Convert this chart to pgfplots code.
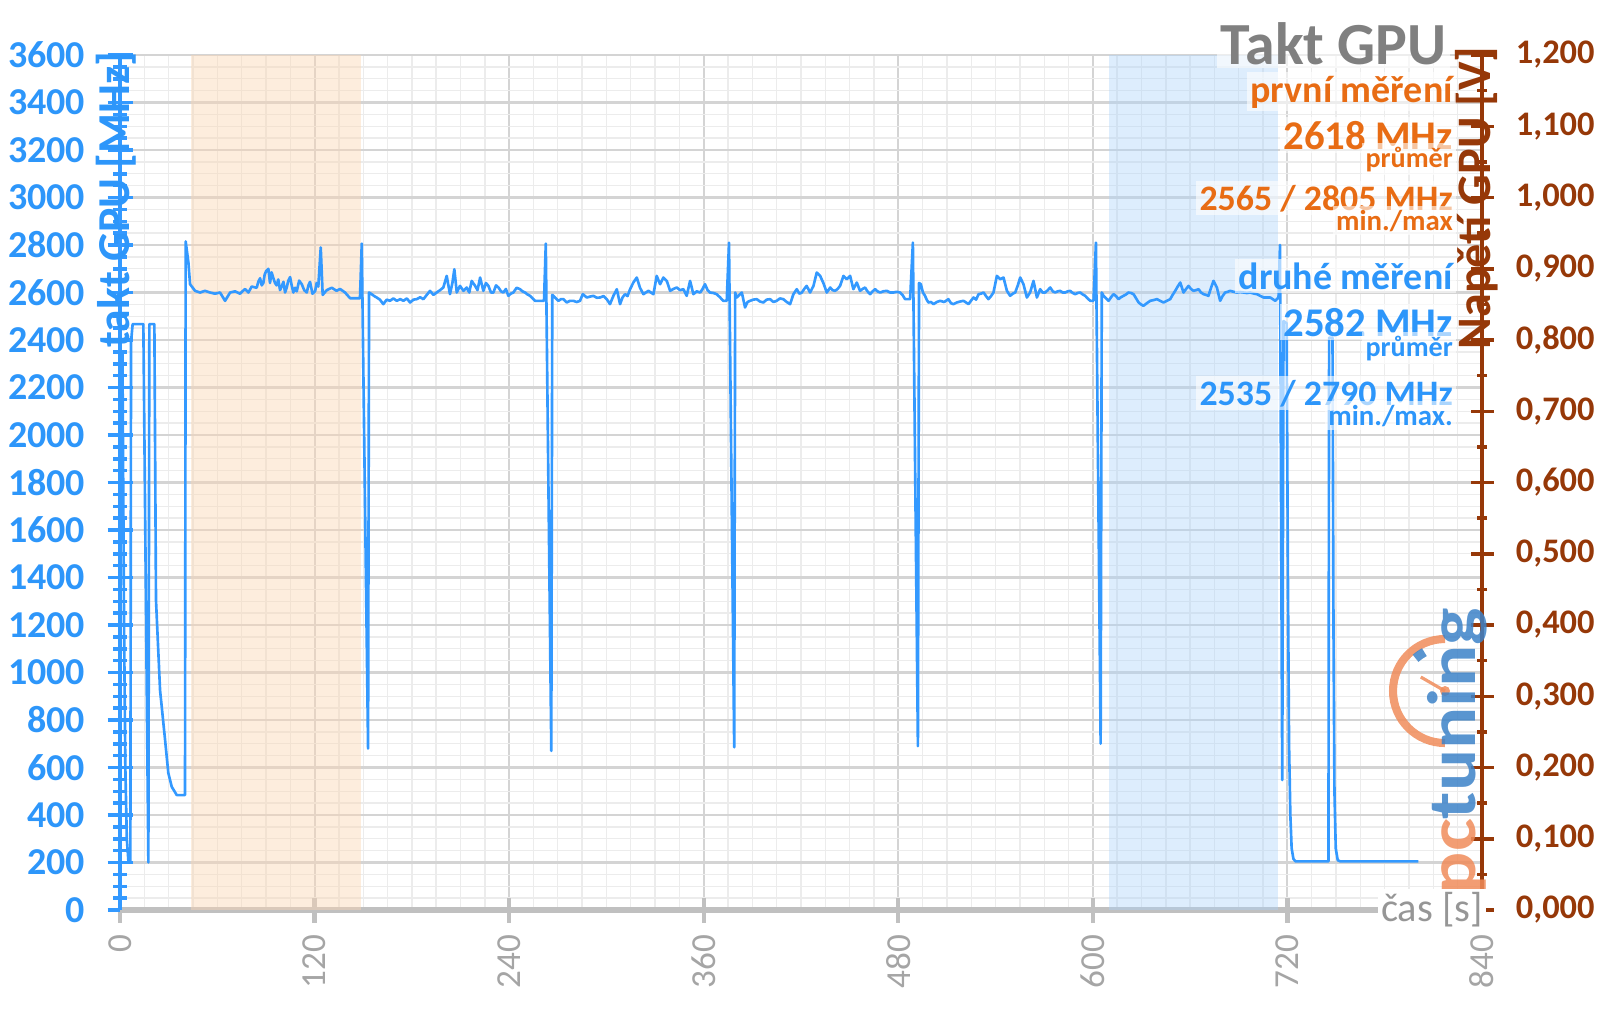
\documentclass[border=0pt]{standalone}
\usepackage{fontspec}
\setmainfont{Carlito}
\usepackage{pgfplots}
\pgfplotsset{compat=1.18}
\definecolor{cblue}{RGB}{51,153,255}
\definecolor{cbluetxt}{RGB}{45,150,250}
\definecolor{corange}{RGB}{232,108,20}
\definecolor{cbrown}{RGB}{150,56,8}
\definecolor{cgray}{RGB}{128,128,128}
\definecolor{cgray2}{RGB}{150,150,150}
\definecolor{ctick}{RGB}{165,165,165}
\definecolor{caxis}{RGB}{192,192,192}
\definecolor{cmaj}{RGB}{212,212,212}
\definecolor{cmin}{RGB}{236,236,236}
\definecolor{bandO}{RGB}{251,214,180}
\definecolor{bandB}{RGB}{170,210,250}
\definecolor{logoO}{RGB}{240,140,90}
\definecolor{logoB}{RGB}{60,130,200}
\newcommand{\fs}[1]{\fontsize{#1}{#1}\selectfont}

\pgfplotstableread{
x y
0 2350
1.5 2350
2.5 1200
3.3 600
4.2 300
5.2 205
6.4 200
6.8 2390
7.8 2467
14.4 2467
17.5 200
18.1 2467
21.2 2467
22.2 1305
24.7 926
27.8 716
29.8 577
31.9 519
35.0 484
40.1 484
40.5 2815
42.2 2726
43.2 2635
46.3 2607
49.4 2600
52.4 2607
55.5 2600
58.6 2595
61.7 2600
64.8 2565
67.9 2600
71.0 2605
74.0 2595
77.1 2615
79.2 2600
81.2 2625
84.3 2620
85.3 2645
86.4 2660
87.4 2630
88.4 2640
89.2 2675
90.1 2690
91.5 2700
92.5 2640
93.5 2685
94.6 2660
95.6 2640
96.6 2630
97.6 2655
98.7 2610
99.7 2625
100.8 2645
101.8 2600
102.8 2620
103.8 2650
104.9 2665
105.9 2630
106.9 2600
108.0 2620
109.0 2605
110.5 2650
112.1 2635
113.6 2610
115.2 2600
116.2 2630
117.2 2645
118.7 2595
120.3 2605
121.3 2640
122.3 2625
123.8 2790
125.0 2590
127.5 2610
130.6 2620
133.6 2607
135.7 2615
138.8 2600
141.9 2576
148.0 2576
149.1 2806
153.0 680
153.6 2600
155.2 2593
156.8 2585
158.3 2579
160.3 2570
162.4 2551
164.5 2570
166.5 2565
168.6 2575
170.7 2565
172.8 2572
174.8 2565
176.9 2575
178.9 2558
181.0 2570
183.0 2572
185.1 2580
187.1 2572
189.2 2590
191.2 2607
193.3 2590
195.3 2600
197.4 2610
199.4 2621
201.5 2670
203.5 2593
205.0 2640
206.2 2698
207.7 2600
209.7 2628
211.8 2607
213.8 2621
215.4 2600
216.9 2649
219.0 2628
220.5 2610
222.1 2663
224.1 2607
225.7 2640
227.2 2628
228.8 2600
230.3 2600
231.9 2630
233.4 2621
235.0 2605
236.5 2600
238.0 2615
239.5 2586
241.0 2595
242.6 2600
244.6 2620
246.7 2614
248.2 2605
249.8 2600
251.3 2592
252.9 2586
254.5 2575
256.0 2565
261.5 2565
262.6 2806
266.0 670
266.6 2590
267.3 2586
268.9 2575
270.4 2565
272.0 2572
273.5 2572
275.5 2558
277.5 2565
279.6 2565
281.7 2560
283.7 2565
285.4 2593
287.9 2579
290.0 2583
292.0 2586
294.0 2578
296.1 2579
298.2 2585
300.2 2572
302.2 2551
304.3 2586
306.4 2614
308.4 2551
310.0 2580
311.5 2593
313.0 2585
314.6 2614
316.6 2642
318.7 2663
320.7 2620
322.8 2593
324.3 2600
325.9 2607
327.5 2600
329.0 2593
331.0 2670
333.1 2635
335.1 2663
337.2 2649
339.3 2607
341.3 2615
343.4 2621
345.4 2610
347.5 2614
349.5 2586
351.6 2649
353.6 2593
355.7 2605
357.8 2600
359.3 2615
360.8 2635
362.4 2610
363.9 2600
366.0 2598
368.0 2593
370.0 2580
372.1 2565
374.2 2565
375.6 2810
378.8 685
379.4 2600
380.4 2579
382.0 2590
383.5 2600
385.5 2537
387.0 2560
388.6 2565
390.6 2570
392.7 2572
394.7 2562
396.8 2558
398.8 2570
400.9 2572
403.0 2560
405.0 2565
407.0 2575
409.1 2572
411.2 2560
413.3 2551
415.3 2593
417.4 2614
419.0 2595
420.5 2600
422.0 2615
423.5 2628
425.6 2600
427.7 2628
429.7 2684
431.8 2670
433.8 2640
435.9 2600
438.0 2621
439.5 2610
441.0 2607
442.6 2615
444.1 2628
446.2 2670
448.2 2656
450.3 2670
452.3 2614
454.4 2642
456.4 2607
458.0 2615
459.5 2621
461.0 2605
462.6 2593
464.2 2605
465.7 2614
467.2 2605
468.8 2600
470.8 2605
472.9 2607
475.0 2600
477.0 2600
479.0 2603
481.1 2600
482.6 2590
484.2 2572
487.3 2572
489.0 2810
492.1 690
492.8 2640
493.9 2635
495.2 2600
496.5 2586
497.5 2570
498.6 2558
500.2 2560
501.7 2551
503.8 2560
505.8 2565
508.3 2560
510.9 2572
512.5 2555
514.0 2551
516.1 2558
518.1 2562
520.2 2565
521.8 2558
523.3 2551
524.8 2565
526.4 2579
528.0 2570
529.5 2593
531.0 2595
532.6 2600
534.1 2585
535.6 2572
537.2 2585
538.7 2600
540.8 2670
542.8 2656
544.9 2663
547.0 2607
549.0 2586
550.6 2595
552.1 2600
553.7 2630
555.2 2663
557.2 2635
559.3 2579
561.3 2600
563.4 2649
565.5 2579
567.5 2614
569.0 2600
570.6 2600
572.2 2610
573.7 2621
575.3 2605
576.8 2600
578.3 2605
579.8 2607
581.4 2600
582.9 2600
584.5 2605
586.0 2607
587.6 2598
589.1 2593
590.6 2598
592.2 2600
593.7 2592
595.3 2586
596.8 2575
598.4 2565
600.4 2565
601.9 2810
604.8 700
605.5 2600
606.6 2586
608.2 2575
609.7 2565
611.2 2580
612.7 2593
614.3 2585
615.8 2572
617.3 2580
618.9 2586
620.5 2592
622.0 2600
623.5 2598
625.1 2593
626.7 2575
628.2 2558
629.7 2550
631.2 2544
633.3 2555
635.4 2565
637.4 2568
639.5 2572
641.5 2565
643.6 2558
645.6 2565
647.7 2572
649.2 2590
650.8 2607
652.3 2625
653.9 2642
655.9 2600
657.5 2615
659.0 2628
660.5 2615
662.1 2607
663.6 2610
665.2 2614
666.7 2600
668.3 2593
669.8 2590
671.3 2586
672.9 2620
674.4 2649
676.5 2621
678.5 2565
680.0 2585
681.6 2600
683.2 2603
684.7 2607
686.8 2603
688.8 2600
690.9 2602
692.9 2600
695.0 2598
697.0 2600
699.1 2596
701.2 2593
703.2 2586
705.3 2579
709.4 2579
711.0 2572
712.5 2565
714.5 2579
715.4 2800
716.8 547
717.6 2480
719.5 2470
720.3 1400
721.0 700
721.8 400
722.6 260
723.7 215
725.0 205
745.3 205
745.7 2410
747.8 2410
748.4 1200
749.0 500
749.8 260
751.0 210
752.5 205
800.7 205
}\clockdata

\begin{document}
\begin{tikzpicture}
\begin{axis}[
  at={(0,0)}, anchor=south west,
  scale only axis, width=13.62cm, height=8.55cm,
  xmin=0, xmax=840, ymin=0, ymax=3600,
  axis lines=left, axis line style={-},
  x axis line style={draw=caxis, line width=1.5pt},
  y axis line style={draw=cblue, line width=1.2pt},
  xtick={0,120,...,840}, minor x tick num=7,
  ytick={0,200,...,3600}, minor y tick num=3,
  grid=both,
  major grid style={draw=cmaj, line width=0.6pt},
  minor grid style={draw=cmin, line width=0.4pt},
  tick align=center,
  major tick length=0.25cm, minor tick length=0.14cm,
  xtick style={draw=caxis, line width=1.2pt},
  minor x tick style={draw=none},
  ytick style={draw=cblue, line width=1pt},
  /pgf/number format/assume math mode=true,
  /pgf/number format/1000 sep={},
  xticklabel style={rotate=90, anchor=east, font=\fs{10}, text=ctick},
  yticklabel style={font=\bfseries\fs{10.8}, text=cbluetxt, xshift=-0.1cm},
  no markers,
]
\addplot[draw=none, fill=bandO, fill opacity=0.45] coordinates {(44,0) (44,3600) (148.5,3600) (148.5,0)};
\addplot[draw=none, fill=bandB, fill opacity=0.40] coordinates {(610,0) (610,3600) (714,3600) (714,0)};
\addplot[cblue, line width=0.75pt, line join=round] table[x=x, y=y] {\clockdata};
\end{axis}
\begin{axis}[
  at={(0,0)}, anchor=south west,
  scale only axis, width=13.62cm, height=8.55cm,
  xmin=0, xmax=840, ymin=0, ymax=1.2,
  axis y line*=right, axis x line=none, xtick=\empty,
  y axis line style={draw=cbrown, line width=1.2pt, -},
  ytick={0,0.1,0.2,0.3,0.4,0.5,0.6,0.7,0.8,0.9,1.0,1.1,1.2},
  minor y tick num=1,
  tick align=center,
  major tick length=0.23cm, minor tick length=0.1cm,
  ytick style={draw=cbrown, line width=1pt},
  yticklabel style={font=\bfseries\fs{9.8}, text=cbrown, xshift=0.1cm},
  /pgf/number format/.cd, fixed, fixed zerofill, precision=3, use comma, assume math mode=true,
]
\addplot[draw=none] coordinates {(0,0)};
\end{axis}

% logo
\begin{scope}[opacity=0.85]
\draw[line width=2.3pt, draw=logoO] (13.25,2.71) arc[start angle=90, end angle=270, radius=0.52];
\draw[line width=2.6pt, draw=logoB] (13.25,2.19) ++(118:0.44) arc[start angle=118, end angle=132, radius=0.44];
\draw[line width=0.9pt, draw=logoO] (13.25,2.19) -- ++(150:0.28);
\fill[logoO] (13.25,2.19) circle (0.05);
\node[rotate=90, anchor=base west, inner sep=0pt, font=\bfseries\fs{19.5}] at (13.55,0.15) {\scalebox{1.15}[1]{\textcolor{logoO}{pc}\textcolor{logoB}{tuning}}};
\end{scope}

% axis labels
\node[rotate=90, anchor=base east, inner sep=0pt, text=cbluetxt, font=\bfseries\fs{13}] at (0.09,8.59) {takt GPU [MHz]};
\node[rotate=90, anchor=base east, inner sep=0pt, text=cbrown, font=\bfseries\fs{13.7}] at (13.70,8.64) {Napětí GPU [V]};
\node[anchor=base east, fill=white, inner sep=1pt, text=cgray2, font=\fs{11.5}] at (13.67,-0.117) {čas [s]};

% annotations
\tikzset{ann/.style={anchor=base east, inner sep=1pt, fill=white, fill opacity=0.6, text opacity=1}}
\node[ann, text=cgray, font=\bfseries\fs{17}] at (13.31,8.46) {Takt GPU};
\node[ann, text=corange, font=\bfseries\fs{10.8}] at (13.37,8.08) {první měření};
\node[ann, text=corange, font=\bfseries\fs{11.6}] at (13.37,7.61) {2618 MHz};
\node[ann, text=corange, font=\bfseries\fs{8}] at (13.37,7.43) {průměr};
\node[ann, text=corange, font=\bfseries\fs{10.2}] at (13.37,7.00) {2565 / 2805 MHz};
\node[ann, text=corange, font=\bfseries\fs{8.2}] at (13.37,6.80) {min./max};
\node[ann, text=cbluetxt, font=\bfseries\fs{10.8}] at (13.37,6.21) {druhé měření};
\node[ann, text=cbluetxt, font=\bfseries\fs{11.6}] at (13.37,5.74) {2582 MHz};
\node[ann, text=cbluetxt, font=\bfseries\fs{8}] at (13.37,5.54) {průměr};
\node[ann, text=cbluetxt, font=\bfseries\fs{10.2}] at (13.37,5.05) {2535 / 2790 MHz};
\node[ann, text=cbluetxt, font=\bfseries\fs{8.2}] at (13.37,4.85) {min./max.};

\pgfresetboundingbox
\useasboundingbox (-1.20,-0.99) rectangle (14.80,9.10);
\end{tikzpicture}
\end{document}
